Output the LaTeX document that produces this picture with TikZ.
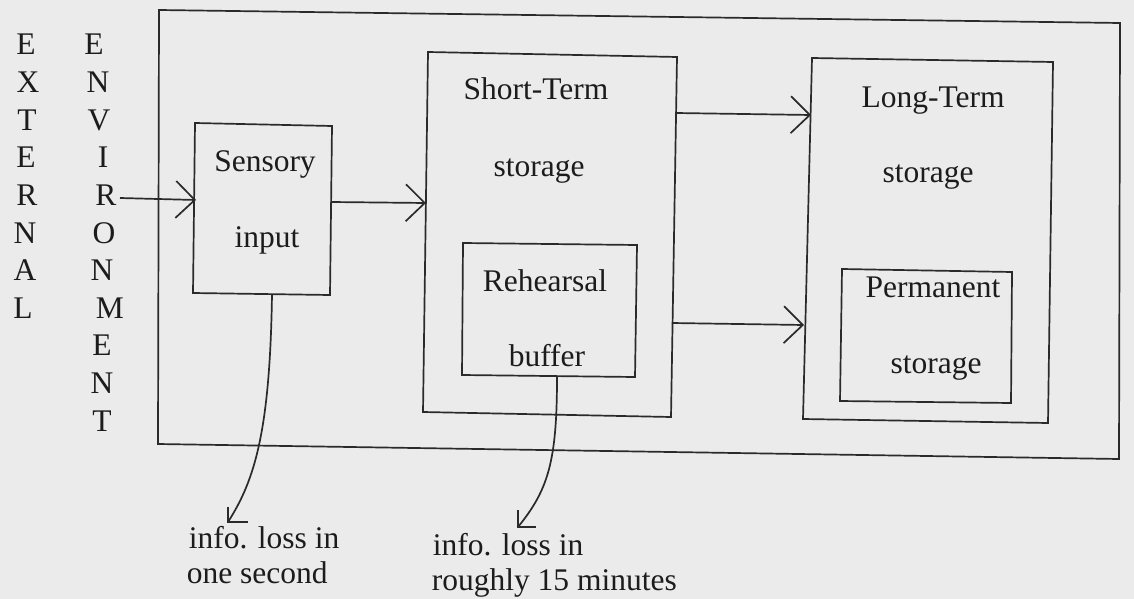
\documentclass[tikz,border=0pt]{standalone}
\usepackage{fontspec}
\setmainfont{Liberation Serif}
\usetikzlibrary{arrows.meta}
\definecolor{bg}{HTML}{EBEBEB}
\definecolor{ink}{HTML}{2A2A2A}
\definecolor{txt}{HTML}{1C1C1C}
\begin{document}
\begin{tikzpicture}[x=1pt,y=1pt,line width=1.7pt,
  lbl/.style={anchor=base,inner sep=0pt,text=txt,font=\fontsize{31.5}{36}\selectfont},
  frame/.style={draw=ink,line join=miter},
  flow/.style={draw=ink,-{Straight Barb[length=19pt,width=37pt]}},
  loss/.style={draw=ink},
  barb/.style={draw=ink,line cap=butt}]
\fill[bg] (0,0) rectangle (1134,-599);
\useasboundingbox (0,0) rectangle (1134,-599);

% box corners
\coordinate (o1) at (159,-10);  \coordinate (o2) at (1120,-23);
\coordinate (o3) at (1119,-459); \coordinate (o4) at (158,-444);
\coordinate (s1) at (195,-123); \coordinate (s2) at (332,-126);
\coordinate (s3) at (330,-295); \coordinate (s4) at (193,-293);
\coordinate (t1) at (428,-52);  \coordinate (t2) at (677,-57);
\coordinate (t3) at (671,-417); \coordinate (t4) at (423,-412);
\coordinate (r1) at (463,-243); \coordinate (r2) at (637,-245);
\coordinate (r3) at (635,-377); \coordinate (r4) at (462,-375);
\coordinate (l1) at (812,-58);  \coordinate (l2) at (1053,-62);
\coordinate (l3) at (1048,-423); \coordinate (l4) at (803,-419);
\coordinate (p1) at (842,-269); \coordinate (p2) at (1012,-272);
\coordinate (p3) at (1011,-403); \coordinate (p4) at (840,-401);

\draw[frame] (o1) -- (o2) -- (o3) -- (o4) -- cycle;
\draw[frame] (s1) -- (s2) -- (s3) -- (s4) -- cycle;
\draw[frame] (t1) -- (t2) -- (t3) -- (t4) -- cycle;
\draw[frame] (r1) -- (r2) -- (r3) -- (r4) -- cycle;
\draw[frame] (l1) -- (l2) -- (l3) -- (l4) -- cycle;
\draw[frame] (p1) -- (p2) -- (p3) -- (p4) -- cycle;

% vertical words
\foreach \ch/\xx [count=\k from 0] in {E/26,X/28,T/27,E/26,R/27,N/25,A/25,L/23}
  \node[lbl] (ext\k) at (\xx,-55-37.6*\k) {\ch};
\foreach \ch/\xx [count=\k from 0] in {E/94,N/98,V/99,I/103,R/106,O/104,N/102,M/110,E/102,N/102,T/102}
  \node[lbl] (env\k) at (\xx,-55-37.6*\k) {\ch};

% box texts
\node[lbl] (sens1) at (265,-171) {Sensory};
\node[lbl] (sens2) at (267,-247) {input};
\node[lbl] (st1) at (536,-100) {Short-Term};
\node[lbl] (st2) at (539,-176) {storage};
\node[lbl] (reh1) at (545,-291) {Rehearsal};
\node[lbl] (reh2) at (547,-366) {buffer};
\node[lbl] (lt1) at (933,-107) {Long-Term};
\node[lbl] (lt2) at (928,-182) {storage};
\node[lbl] (pm1) at (933,-297) {Permanent};
\node[lbl] (pm2) at (936,-373) {storage};

% loss labels
\node[lbl,anchor=base west] (la1) at (188,-548) {info. loss in};
\node[lbl,anchor=base west] (la2) at (186,-583) {one second};
\node[lbl,anchor=base west] (lb1) at (432,-555) {info. loss in};
\node[lbl,anchor=base west] (lb2) at (431,-590) {roughly 15 minutes};

% flow arrows
\coordinate (a0) at (120,-198); \coordinate (a1) at (196,-200);
\coordinate (b0) at (331,-202); \coordinate (b1) at (426,-203);
\coordinate (c0) at (676,-113); \coordinate (c1) at (811,-115);
\coordinate (d0) at (672,-323); \coordinate (d1) at (804,-325);
\draw[flow] (a0) -- (a1);
\draw[flow] (b0) -- (b1);
\draw[flow] (c0) -- (c1);
\draw[flow] (d0) -- (d1);

% loss curves
\coordinate (e0) at (272,-294); \coordinate (e1) at (228,-522);
\coordinate (f0) at (557,-377); \coordinate (f1) at (518,-527);
\draw[loss] (e0) .. controls (270,-430) and (255,-480) .. (e1);
\draw[barb] (228,-507) -- (e1) -- (248,-522);
\draw[loss] (f0) .. controls (557,-462) and (548,-490) .. (f1);
\draw[barb] (518,-510) -- (f1) -- (536,-527);
\end{tikzpicture}
\end{document}
